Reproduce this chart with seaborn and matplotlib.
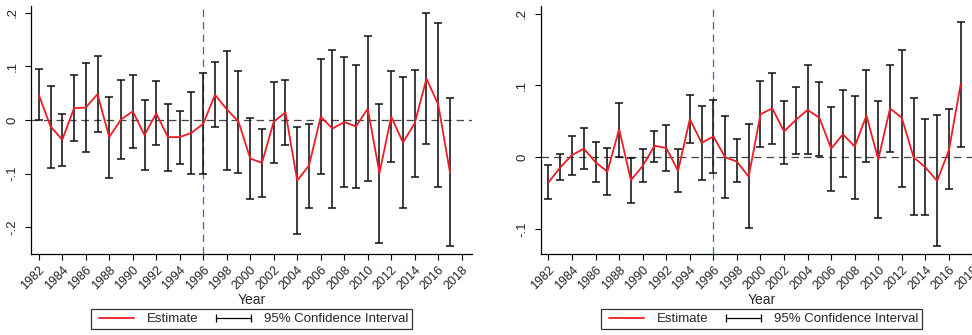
import numpy as np
import pandas as pd
import matplotlib
matplotlib.use("Agg")
import matplotlib.pyplot as plt
import seaborn as sns
from matplotlib.lines import Line2D

years = list(range(1982, 2018))

left_est = [0.047, -0.012, -0.037, 0.022, 0.023, 0.048, -0.032, 0.001, 0.016, -0.028,
            0.012, -0.032, -0.032, -0.024, -0.007, 0.047, 0.020, -0.003, -0.072, -0.080,
            -0.003, 0.014, -0.113, -0.085, 0.006, -0.016, -0.004, -0.012, 0.021, -0.099,
            0.006, -0.042, -0.006, 0.077, 0.029, -0.098]
left_hi = [0.095, 0.064, 0.012, 0.083, 0.106, 0.119, 0.042, 0.075, 0.084, 0.037,
           0.072, 0.030, 0.017, 0.053, 0.088, 0.109, 0.129, 0.091, 0.003, -0.016,
           0.071, 0.074, -0.014, -0.007, 0.114, 0.131, 0.118, 0.102, 0.157, 0.030,
           0.091, 0.081, 0.094, 0.199, 0.181, 0.041]
left_lo = [-0.001, -0.090, -0.086, -0.040, -0.060, -0.023, -0.109, -0.073, -0.052, -0.094,
           -0.046, -0.096, -0.083, -0.100, -0.100, -0.014, -0.093, -0.099, -0.147, -0.143,
           -0.080, -0.047, -0.212, -0.164, -0.101, -0.164, -0.125, -0.126, -0.114, -0.230,
           -0.078, -0.165, -0.106, -0.045, -0.125, -0.236]

right_est = [-0.035, -0.014, 0.003, 0.012, -0.007, -0.020, 0.039, -0.032, -0.012, 0.016,
             0.013, -0.019, 0.053, 0.020, 0.029, 0.000, -0.006, -0.027, 0.060, 0.068,
             0.036, 0.052, 0.066, 0.055, 0.012, 0.032, 0.015, 0.058, -0.003, 0.068,
             0.055, 0.000, -0.014, -0.033, 0.010, 0.102]
right_hi = [-0.011, 0.004, 0.030, 0.041, 0.021, 0.013, 0.076, -0.001, 0.011, 0.037,
            0.045, 0.011, 0.087, 0.071, 0.080, 0.057, 0.025, 0.046, 0.106, 0.117,
            0.079, 0.098, 0.129, 0.105, 0.070, 0.093, 0.086, 0.122, 0.079, 0.129,
            0.150, 0.083, 0.053, 0.059, 0.067, 0.188]
right_lo = [-0.058, -0.032, -0.025, -0.017, -0.034, -0.053, 0.001, -0.063, -0.035, -0.006,
            -0.019, -0.048, 0.020, -0.031, -0.022, -0.057, -0.035, -0.099, 0.015, 0.019,
            -0.009, 0.004, 0.004, 0.002, -0.047, -0.027, -0.058, -0.006, -0.084, 0.007,
            -0.042, -0.081, -0.080, -0.124, -0.044, 0.014]

xtick_years = list(range(1982, 2019, 2))
left_yticks = [-0.2, -0.1, 0.0, 0.1, 0.2]
left_yticklabels = ["-.2", "-.1", "0", ".1", ".2"]
right_yticks = [-0.1, 0.0, 0.1, 0.2]
right_yticklabels = ["-.1", "0", ".1", ".2"]

sns.set_style("ticks")
plt.rcParams['font.family'] = ['Liberation Sans', 'DejaVu Sans']

RED = "#ee1c25"
fig = plt.figure(figsize=(9.72, 3.35), dpi=100)
ax1 = fig.add_axes([0.0319, 0.2418, 0.4534, 0.741])
ax2 = fig.add_axes([0.5563, 0.2418, 0.4545, 0.741])


def draw(ax, est, lo, hi, ylim, yticks, yticklabels):
    df = pd.DataFrame({"year": years, "est": est, "lo": lo, "hi": hi})
    ax.axhline(0, color="#444444", lw=0.9, ls=(0, (6, 4)), zorder=1)
    ax.axvline(1996, color="#4a62b0", lw=0.9, ls=(0, (6, 4)), zorder=1)
    mid = (df["lo"] + df["hi"]) / 2
    ax.errorbar(df["year"], mid, yerr=[mid - df["lo"], df["hi"] - mid], fmt="none",
                ecolor="#111111", elinewidth=1.15, capsize=3, capthick=1.1, zorder=2)
    sns.lineplot(data=df, x="year", y="est", ax=ax, color=RED, lw=1.3, zorder=3,
                 legend=False)
    ax.set_xlim(1981.34, 2018.85)
    ax.set_ylim(*ylim)
    ax.set_xticks(xtick_years)
    ax.set_xticklabels([str(y) for y in xtick_years], rotation=45, ha="right",
                       rotation_mode="anchor", fontsize=9)
    ax.set_yticks(yticks)
    ax.set_yticklabels(yticklabels, rotation=90, va="center", fontsize=9.5)
    ax.tick_params(axis="both", length=4, width=0.8, color="black", pad=3)
    ax.tick_params(axis="y", pad=5)
    ax.set_xlabel("Year", fontsize=10, labelpad=1)
    ax.set_ylabel("")
    sns.despine(ax=ax)
    for s in ["left", "bottom"]:
        ax.spines[s].set_color("black")
        ax.spines[s].set_linewidth(0.9)
    handles = [Line2D([], [], color=RED, lw=1.3),
               Line2D([], [], color="black", lw=0.9, marker="|", markersize=6,
                      markeredgewidth=0.9)]
    leg = ax.legend(handles, ["Estimate", "95% Confidence Interval"], ncol=2,
                    loc="upper center", bbox_to_anchor=(0.5, -0.222), frameon=True,
                    fancybox=False, edgecolor="black", fontsize=9.5, numpoints=2,
                    handlelength=3.3, columnspacing=1.0, borderpad=0.3,
                    handletextpad=0.65, borderaxespad=0)
    leg.get_frame().set_linewidth(0.9)


draw(ax1, left_est, left_lo, left_hi, (-0.25, 0.213), left_yticks, left_yticklabels)
draw(ax2, right_est, right_lo, right_hi, (-0.1347, 0.211), right_yticks, right_yticklabels)

fig.savefig("out.png", dpi=100)
